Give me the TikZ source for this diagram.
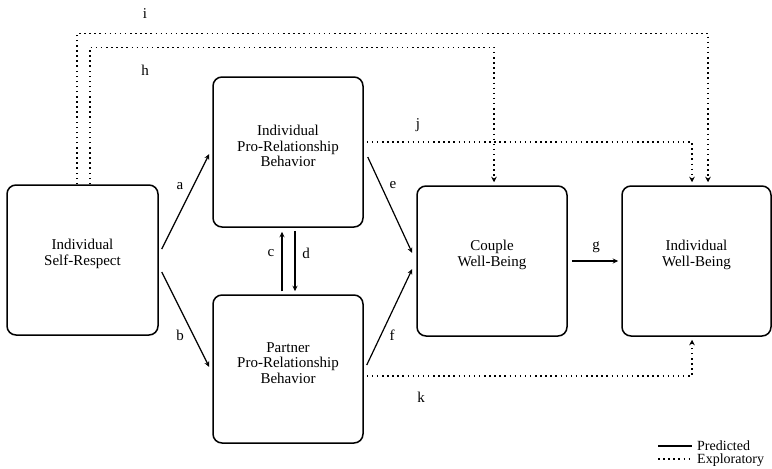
\documentclass[tikz,border=0pt]{standalone}
\usepackage{fontspec}
\setmainfont{Liberation Serif}
\usetikzlibrary{arrows.meta}
\begin{document}
\begin{tikzpicture}[x=1pt,y=-1pt,
  font=\fontsize{15}{15.5}\selectfont,
  box/.style={draw,line width=1.5pt,rounded corners=9pt,minimum width=150pt,minimum height=150pt,inner sep=0pt},
  inner/.style={align=center,yshift=6pt},
  pred/.style={line width=1.2pt,-{Stealth[length=5.5pt,width=5pt]}},
  expl/.style={line width=1.5pt,dash pattern=on 1.5pt off 3.6pt,-{Stealth[length=5.5pt,width=5.5pt]}},
  lab/.style={inner sep=0pt}]
\useasboundingbox (0,0) rectangle (772,469);
\node[box,minimum width=151pt,label={[inner]center:Individual\\Self-Respect}] (sr) at (82.5,260) {};
\node[box,label={[inner]center:Individual\\Pro-Relationship\\Behavior}] (ip) at (288,152) {};
\node[box,minimum height=148pt,label={[inner]center:Partner\\Pro-Relationship\\Behavior}] (pp) at (288,369) {};
\node[box,label={[inner]center:Couple\\Well-Being}] (cw) at (492,261) {};
\node[box,minimum width=149pt,label={[inner]center:Individual\\Well-Being}] (iw) at (696.5,261) {};

\draw[pred] ([shift={(3,-11)}]sr.east) -- ([shift={(-3,2)}]ip.west);
\draw[pred] ([shift={(3,12)}]sr.east) -- ([shift={(-3,-2)}]pp.west);
\draw[pred] ([shift={(-6,-3)}]pp.north) -- ([shift={(-6,4)}]ip.south);
\draw[pred] ([shift={(7,3)}]ip.south) -- ([shift={(7,-3)}]pp.north);
\draw[pred] ([shift={(4,5)}]ip.east) -- ([shift={(-4,-8)}]cw.west);
\draw[pred] ([shift={(3,-4)}]pp.east) -- ([shift={(-4,8)}]cw.west);
\draw[pred] ([shift={(4,0)}]cw.east) -- ([shift={(-3,0)}]iw.west);

\draw[expl] ([shift={(7.5,0)}]sr.north) -- ++(0,-137) -| ([shift={(2,-3)}]cw.north);
\draw[expl] ([shift={(-5.5,0)}]sr.north) -- ++(0,-151) -| ([shift={(11.5,-3)}]iw.north);
\draw[expl] ([shift={(3,-10)}]ip.east) -| ([shift={(-4.5,-3)}]iw.north);
\draw[expl] ([shift={(3,7)}]pp.east) -| ([shift={(-4.5,3)}]iw.south);

\node[lab] (la) at (180,186) {a};
\node[lab] (lb) at (180,335) {b};
\node[lab] (lc) at (271,253) {c};
\node[lab] (ld) at (306,253) {d};
\node[lab] (le) at (393,185) {e};
\node[lab] (lf) at (392,335) {f};
\node[lab] (lg) at (596,247) {g};
\node[lab] (lh) at (145,70) {h};
\node[lab] (li) at (145,14) {i};
\node[lab] (lj) at (418,125) {j};
\node[lab] (lk) at (421,397) {k};

\coordinate (p1) at (658,446);
\coordinate (p2) at (692,446);
\coordinate (e1) at (658,459);
\coordinate (e2) at (692,459);
\draw[line width=1.2pt] (p1) -- (p2);
\draw[line width=1.5pt,dash pattern=on 1.5pt off 3.6pt] (e1) -- (e2);
\node[lab,anchor=base west,font=\fontsize{14}{14}\selectfont] (lp) at (697,450.5) {Predicted};
\node[lab,anchor=base west,font=\fontsize{14}{14}\selectfont] (lx) at (697,463) {Exploratory};
\end{tikzpicture}
\end{document}
